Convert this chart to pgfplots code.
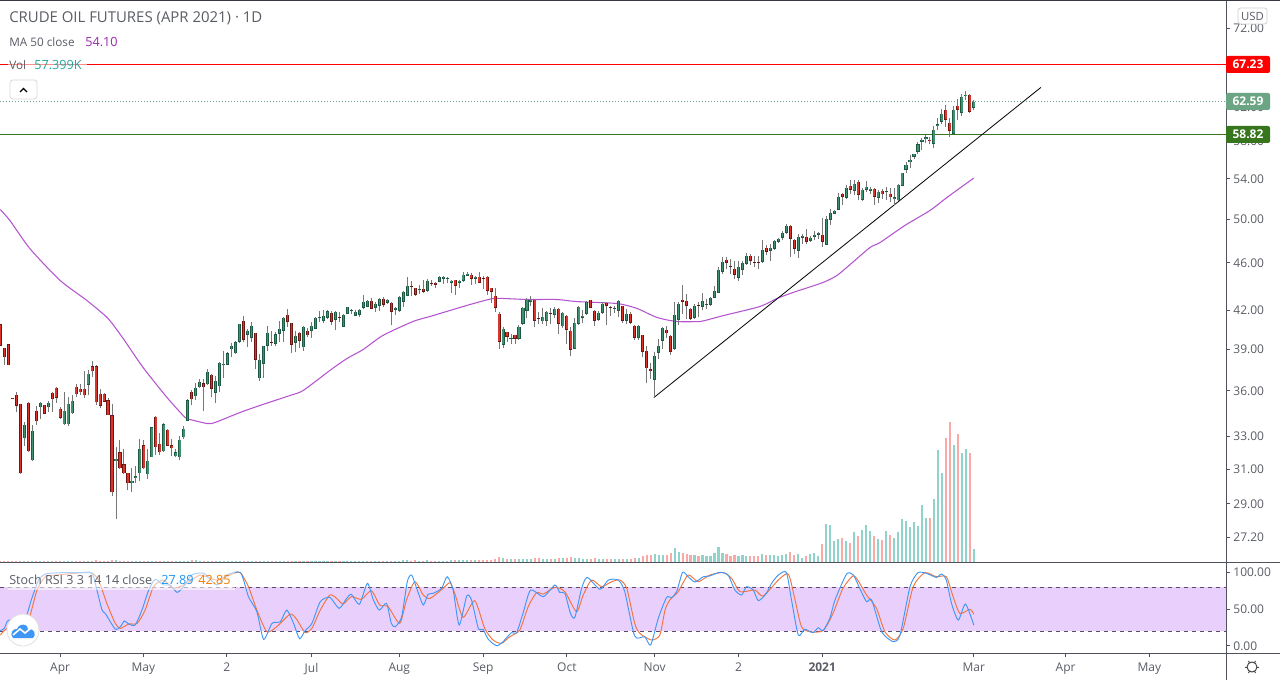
\documentclass[border=0pt]{standalone}
\usepackage{fontspec}
\setmainfont{Open Sans}
\usepackage{pgfplots}
\usepackage{pgfplotstable}
\pgfplotsset{compat=1.18}
\definecolor{axc}{HTML}{50535E}
\definecolor{txt}{HTML}{5A5D66}
\definecolor{gbody}{HTML}{3F9170}
\definecolor{gedge}{HTML}{1C5A43}
\definecolor{rbody}{HTML}{D8352C}
\definecolor{redge}{HTML}{6E1512}
\definecolor{wick}{HTML}{777777}
\definecolor{volg}{HTML}{8FD3CB}
\definecolor{volr}{HTML}{FBA9A6}
\definecolor{ma}{HTML}{B455CF}
\definecolor{rband}{HTML}{E9CFFC}
\definecolor{rdash}{HTML}{5A4A6A}
\definecolor{kblue}{HTML}{3E97F5}
\definecolor{dor}{HTML}{F4733A}
\definecolor{plg}{HTML}{6BA583}
\definecolor{hgreen}{HTML}{37761C}
\definecolor{hred}{HTML}{FF0000}

\pgfplotstableread{
i o h l c v
6 32.89 33.91 32.43 33.74 6
8 31.53 33.70 31.50 33.36 7
10 34.90 35.24 34.09 35.20 6
12 34.90 35.30 34.61 35.20 5
16 33.78 35.96 33.74 34.66 6
17 33.78 35.60 33.65 35.13 6
18 34.50 35.69 34.48 35.33 5
22 36.41 37.49 35.71 37.20 6
29 31.47 32.37 28.17 31.62 10
33 30.17 31.05 29.70 30.32 7
34 30.47 31.16 30.17 30.60 6
35 30.76 32.87 30.33 32.23 6
37 30.70 32.19 30.41 31.50 6
38 31.72 33.63 31.70 33.57 6
41 32.08 33.85 32.05 33.80 6
44 31.78 32.19 31.75 32.04 5
45 31.72 33.03 31.53 32.79 6
46 32.95 33.68 32.85 33.49 6
47 34.00 35.42 33.98 35.39 8
49 35.64 36.53 35.37 36.22 9
50 36.26 36.80 36.22 36.64 7
52 36.47 37.51 36.40 37.35 6
54 35.87 37.05 35.17 36.71 6
55 36.33 38.06 35.91 38.01 6
56 37.81 38.90 36.89 37.92 6
57 37.84 38.82 37.82 38.72 5
58 39.00 39.45 38.40 39.25 6
59 38.70 39.65 38.62 39.55 6
60 39.55 40.95 39.50 40.93 7
62 40.08 40.49 39.15 40.39 6
63 39.85 41.04 39.52 40.78 6
65 36.89 38.65 36.68 38.21 7
66 37.92 39.27 36.89 39.25 7
67 39.25 40.73 38.90 40.23 6
69 39.40 40.26 39.20 40.15 5
70 40.15 41.12 39.52 40.54 5
71 40.39 41.43 39.55 41.41 6
74 39.47 40.41 38.77 40.01 6
76 39.13 40.73 38.85 40.70 6
78 40.39 41.09 39.85 40.78 5
79 40.54 41.43 40.49 41.41 5
80 41.41 41.96 41.04 41.49 5
81 41.17 42.05 41.01 41.57 5
82 41.41 41.99 41.35 41.93 5
84 41.25 41.93 40.44 41.88 6
86 40.70 41.67 40.67 41.65 6
87 41.72 42.31 41.69 42.29 5
88 41.93 42.10 41.72 41.99 5
89 41.57 42.01 41.51 41.88 5
90 41.65 42.10 41.49 42.05 6
91 42.21 43.29 42.10 42.69 7
92 42.29 42.80 42.26 42.78 6
94 42.21 42.64 41.85 42.53 6
95 42.37 43.02 41.96 42.94 6
97 42.61 42.94 42.53 42.86 6
99 42.05 42.31 41.59 42.21 7
100 41.96 43.19 41.88 43.11 8
101 42.69 43.60 42.31 43.52 9
102 43.19 44.73 43.13 44.02 10
105 43.69 44.05 43.35 43.77 8
107 43.60 44.61 43.54 44.44 9
110 44.36 44.81 44.30 44.79 8
111 44.62 44.81 44.19 44.79 8
112 44.62 44.79 44.22 44.70 8
113 44.27 44.47 43.44 44.44 9
115 44.27 44.47 43.87 44.44 9
116 44.44 45.18 44.36 44.97 9
117 44.88 45.21 44.81 45.05 10
119 44.62 44.88 44.19 44.79 10
126 39.32 40.67 39.07 40.54 20
128 39.77 40.15 39.40 39.85 14
130 39.77 40.86 39.70 40.70 15
131 40.94 42.23 40.86 42.21 15
132 41.96 43.02 41.41 42.86 14
133 42.69 43.19 42.34 42.86 14
136 41.12 42.21 40.94 41.49 16
137 41.17 41.91 40.78 41.88 16
139 41.65 42.29 41.41 42.13 14
141 40.75 41.88 40.60 41.80 17
144 39.02 41.41 39.00 41.01 20
145 40.94 42.37 40.86 42.29 18
146 41.41 42.05 41.01 41.57 16
147 41.72 42.78 41.65 42.69 16
150 41.25 41.96 41.17 41.80 15
151 41.80 42.69 41.72 42.53 16
154 42.13 42.37 41.80 42.15 14
155 41.96 42.86 41.49 42.78 14
157 41.17 42.13 40.94 41.72 15
160 39.85 40.80 39.70 40.78 20
164 36.78 38.80 35.57 38.50 35
165 38.72 39.77 38.28 39.25 30
166 39.62 40.70 39.02 40.62 30
169 39.02 42.69 38.92 41.65 58
170 41.25 42.69 40.80 42.53 42
174 41.41 42.53 41.33 42.37 30
176 42.29 43.45 41.99 42.78 32
177 42.50 42.94 42.10 42.55 28
178 42.45 43.05 42.39 43.02 26
179 43.02 43.96 42.99 43.60 38
180 43.44 45.59 43.40 45.39 62
181 45.21 46.53 45.04 46.09 40
185 44.70 46.20 44.41 45.65 28
186 45.39 46.20 44.93 46.00 30
187 45.91 46.88 45.83 46.62 28
191 46.09 48.06 46.00 47.17 34
193 47.07 47.70 46.18 47.35 30
194 47.25 48.01 47.17 47.98 32
195 47.88 48.25 47.79 48.16 26
196 48.25 48.90 48.07 48.72 30
197 48.72 49.56 48.62 49.37 34
200 47.07 48.62 46.41 48.34 34
201 48.25 48.62 47.70 48.43 18
203 47.98 48.43 47.88 48.25 34
204 48.34 48.87 48.07 48.53 38
205 48.53 48.81 48.16 48.72 26
207 47.60 50.33 47.55 50.04 157
208 49.95 51.01 49.47 50.62 153
209 50.52 50.91 50.48 50.81 87
210 50.91 52.59 50.84 52.19 96
212 52.09 53.33 51.99 53.10 87
214 52.79 53.84 52.32 53.50 124
216 51.89 53.10 51.75 52.89 133
217 52.89 53.74 52.69 53.20 153
218 52.79 53.16 52.42 52.99 128
220 52.09 52.82 51.61 52.69 96
222 52.62 53.16 51.89 52.72 128
224 51.92 53.10 51.40 52.12 100
225 51.85 53.43 51.75 53.40 124
226 53.27 54.67 53.23 54.64 178
227 54.96 55.76 54.60 55.48 169
228 55.76 56.48 55.17 56.01 145
229 56.30 56.69 56.12 56.66 165
230 56.87 57.97 56.66 57.75 149
231 57.97 58.43 57.06 58.20 235
232 58.31 58.77 57.82 58.50 182
234 57.75 59.73 57.28 59.32 260
235 59.77 60.73 59.25 60.00 461
236 60.24 61.76 60.00 61.16 366
239 58.87 62.11 58.82 61.64 481
241 61.28 63.48 60.89 63.19 448
242 63.27 63.84 62.75 63.43 465
244 61.88 62.85 61.56 62.59 57.399
}\greentable

\pgfplotstableread{
i o h l c v
0 40.88 40.88 39.27 39.27 6
1 39.10 39.10 37.87 38.40 5
2 39.35 39.35 37.82 37.82 6
3 35.53 35.55 35.42 35.44 5
4 35.74 35.96 34.57 34.97 6
5 35.13 35.13 30.70 30.76 8
7 35.20 35.25 32.05 32.08 8
9 34.66 34.95 33.76 33.98 6
11 35.06 35.08 34.42 34.44 6
13 35.87 35.90 34.61 35.44 5
14 36.22 36.25 35.21 35.53 5
15 34.79 34.92 34.15 34.18 6
19 36.29 36.45 35.57 35.77 5
20 36.15 36.49 35.69 35.91 5
21 36.15 37.37 35.50 35.71 6
23 37.77 38.14 37.00 37.38 6
24 37.77 37.84 35.08 35.23 9
25 35.81 36.17 34.83 34.97 8
26 35.81 35.87 35.23 35.28 6
27 35.39 35.55 34.35 34.37 7
28 34.39 35.13 29.44 29.66 11
30 32.04 32.79 31.02 31.05 8
31 31.31 32.19 30.72 30.76 7
32 30.78 30.80 29.76 30.17 7
36 32.47 32.79 30.98 31.05 6
39 34.27 34.30 31.82 32.33 6
40 32.54 33.20 31.86 32.02 6
42 33.42 33.45 32.40 32.43 6
43 32.47 32.81 31.78 32.26 5
48 35.94 36.08 35.08 35.44 10
51 36.53 36.80 34.63 36.26 7
53 37.13 37.20 35.57 36.15 6
61 41.17 41.51 39.52 39.70 8
64 40.23 40.25 37.51 38.21 8
68 39.57 40.41 39.22 39.50 5
72 41.65 42.13 40.67 41.09 6
73 41.01 41.03 38.70 39.32 7
75 40.23 40.33 39.05 39.62 6
77 40.39 40.57 39.90 40.04 5
83 41.80 41.91 40.86 41.09 6
85 41.49 41.88 41.04 41.41 5
93 42.78 43.02 42.07 42.10 6
96 42.94 43.11 42.26 42.47 6
98 42.61 42.64 40.80 41.88 7
103 44.02 44.41 43.13 43.94 8
104 43.85 43.87 43.13 43.27 9
106 43.77 44.47 43.44 43.52 8
108 44.27 44.53 44.02 44.19 8
109 44.27 44.30 43.80 44.11 8
114 44.53 44.55 43.24 44.02 10
118 44.97 45.07 44.10 44.62 9
120 44.79 45.21 44.22 44.27 10
121 44.70 44.88 43.77 44.62 9
122 44.79 44.81 43.29 43.60 12
123 43.85 43.87 42.61 43.52 12
124 43.19 43.85 41.85 42.21 14
125 41.72 41.88 39.00 39.55 24
127 40.31 40.33 39.55 39.92 16
129 40.08 40.10 39.37 39.77 15
134 42.86 42.88 40.67 41.17 18
135 41.41 41.85 40.94 41.33 17
138 41.80 42.21 40.94 41.72 16
140 42.13 42.15 40.13 40.94 19
142 41.57 41.59 39.40 40.47 20
143 40.39 40.67 38.47 38.95 23
148 42.86 42.88 42.18 42.21 15
149 41.96 42.05 40.75 41.17 17
152 42.61 42.69 40.86 42.37 16
153 42.23 42.37 41.57 42.18 14
156 42.37 42.39 41.01 41.17 16
158 41.72 41.88 40.94 41.01 16
159 40.78 40.80 39.70 39.85 18
161 40.08 40.10 38.40 38.80 27
162 38.88 39.27 36.53 37.60 31
163 37.51 37.99 36.82 37.41 30
167 40.47 40.78 39.85 40.20 30
168 40.01 40.03 38.60 38.80 38
171 42.86 44.05 41.72 42.69 40
172 42.78 43.35 41.33 42.37 36
173 42.13 42.15 41.25 41.33 30
175 42.47 42.69 41.46 42.42 28
182 46.26 46.53 45.48 45.97 36
183 45.76 46.36 45.04 45.70 28
184 45.48 46.18 44.58 44.97 30
188 46.62 46.80 45.83 46.18 28
189 46.11 46.62 45.65 46.02 26
190 46.09 46.62 45.44 46.00 28
192 47.35 47.62 46.72 46.98 30
198 49.37 49.46 46.49 48.16 42
199 48.06 48.10 46.80 47.25 30
202 48.34 49.09 47.70 47.88 26
206 48.53 50.07 47.40 47.88 75
211 52.49 52.59 51.40 52.19 100
213 53.30 53.84 52.49 52.89 79
215 53.71 53.84 51.82 52.39 108
219 52.99 53.10 51.40 52.19 108
221 52.79 52.99 51.99 52.45 92
223 52.49 53.10 51.65 52.12 112
233 58.20 58.50 57.68 58.04 182
237 61.64 62.26 59.62 60.47 510
238 60.12 60.70 58.49 59.21 575
240 62.11 62.95 60.47 61.64 526
243 63.43 63.48 61.28 61.40 448
}\redtable

\pgfplotstableread{
i p
0 50.93
2.4 49.88
7.4 47.27
15 44.47
21.7 42.80
27 41.35
30.8 39.80
35.8 37.65
41.8 35.55
46.3 34.22
47.5 34.09
51.8 33.83
53.8 33.89
60 34.54
65 35.01
72.6 35.69
75.9 36.03
82.6 37.44
86.9 38.31
90.9 38.97
95.9 40.03
103.4 41.11
107.7 41.51
112.7 41.99
117.7 42.47
119.5 42.63
124 42.97
132 42.88
139.5 42.88
144.5 42.71
154.6 42.55
159.6 42.15
164.6 41.43
169.6 41.11
175.4 41.11
176.6 41.19
181.1 41.57
190.4 42.31
194.7 42.97
198.7 43.46
206.2 44.30
209.7 44.90
213 45.85
218 47.37
220.5 47.82
226.7 49.40
233 50.84
237.3 52.13
244 54.10
}\matable

\pgfplotstableread{
x y
-0.075 67.23
307.2 67.23
}\redline
\pgfplotstableread{
x y
-0.075 58.82
307.2 58.82
}\greenline
\pgfplotstableread{
x y
-0.075 62.59
307.2 62.59
}\lastline
\pgfplotstableread{
x y
163.8 35.55
260.8 64.33
}\trendline

\pgfplotstableread{
i k
0 20.5
1 23.7
1.8 33.7
2.9 35
5.8 30.5
7.9 64.5
9.6 89.5
11.3 97.7
15 99.5
20 99.5
23 98.6
24.2 75.9
25.5 48.6
26.3 44.1
28.8 22.8
30.1 26
31.1 33.7
32.2 29.6
33.8 28.2
35.5 48.6
37.2 75.9
38.8 90.4
40.9 82.7
42.6 82.7
44.3 72.7
45.9 80.4
48 96.3
51 98.6
54.3 82.7
56.8 96.3
60.2 99.5
62.2 66.8
64.3 46.4
66 8.7
68.1 30.5
70.2 32.8
71.8 48.6
73.5 30.5
75 9.6
76.4 20.5
78.1 30.5
80.2 60
82.6 65.9
84.9 50.9
86.8 64.5
88 70
90 56.4
92 85
93.5 62.3
95 48.6
96.8 57.7
98 30.5
99 26
100.6 39.6
102 87.2
103.1 96.3
104.5 75.9
106 55.5
107.2 70
108.5 71.4
110.6 78.2
112 94
113.5 75.9
115 28.2
116.9 67.7
118.1 62.3
119.8 23.7
121 22.3
122.3 8.7
124.4 0
126 5.5
128.1 17.8
129.4 17.8
131 44.1
132.9 75.9
136.1 66.8
139 82.7
140.2 72.7
141.5 71.4
142.9 44.1
144 38.7
145.7 78.2
147.1 93.1
150.3 76.8
152.4 89.5
154.9 89.5
156.5 73.6
159 13.2
161.5 12.3
163 1
164.9 37.3
167 65.9
168.2 65.4
169.5 73.6
171 100
172.4 94
174.1 86.8
176.2 94
177.8 95
180.3 100
182.4 96.3
184.1 75.9
185.8 69.1
187 80.4
188.7 75.9
190 61.4
192 71.4
193.3 85
195 96.3
197 100
198.3 62.3
200 14.6
201.6 22.3
203.7 17.8
205 24.6
206.2 20.5
207.9 37.3
209.2 62.3
212.1 97.7
213.8 96.3
215.4 78.2
217.1 60
218.4 62.3
220.9 19.1
223.8 5.5
225.5 14.6
228 80.4
230 99.5
232.1 98.6
234.6 93.1
235.9 97.7
237.1 89.5
238.4 57.7
240.1 35
241.9 56.8
244 27.89
}\ktable

\pgfplotstableread{
i d
0 14.6
1.7 23.7
5 26
7.1 35
9.2 75.9
11.3 94
14.2 96.3
16.7 97.7
22.6 99.5
24.6 89.5
26.7 57.7
28.8 30.5
30.1 23.7
32.2 29.6
34.3 30.5
36.3 48.6
38.4 80.4
40.9 89.5
43.4 78.2
46.8 85
50.1 96.3
54.3 89.5
58.5 98.6
60.2 99.5
62.2 80.4
64.3 48.6
66.8 19.1
69.3 26
72.7 43.2
74.4 35
76.4 17.8
78.1 23.7
80.2 48.6
82.6 69.1
84.3 64.5
85.9 56.8
88 66.8
90.5 63.2
93 75
95.1 55.5
97.2 53.2
100.1 30.5
101.8 62.3
103.9 87.2
106 69.1
107.7 64.5
111 78.2
112.7 85.9
113.9 71.4
116 38.7
118.9 61.4
121.4 23.7
123.5 7.8
125.6 3.2
127.7 12.3
130.2 21.4
132.3 53.2
134.4 72.3
136.1 70.4
139 79.5
141.5 73.6
144.4 46.4
146.1 69.1
148.2 89.5
150.7 80.4
153.2 87.2
155.3 89.5
157 78.2
159 30.5
160.3 16.9
163.2 7.8
165.3 14.6
166.6 48.6
167.8 62.3
169.9 73.6
172.4 96.3
174.9 87.2
177.8 96.3
181.2 99.5
183.3 91.8
185.4 73.6
189.1 75.9
191.2 67.7
195 89.5
197.5 97.7
199.1 64.5
200.8 26
202.9 19.1
206.2 20.5
208.7 44.1
211.2 78.2
213.8 95.4
215.4 85
217.1 69.1
219.6 51
221.7 19.1
224.2 7.8
226.3 23.7
228.8 80.4
231.7 99.5
234.6 94
237.1 94
238.8 66.8
240.5 44.1
243 49.6
244 42.85
}\dtable

\pgfplotsset{
  wickbar/.style={draw=none, mark=none, forget plot,
    error bars/.cd, y dir=plus, y explicit, error mark=none,
    error bar style={color=wick, line width=0.75pt}},
  edgebar/.style={draw=none, mark=none, forget plot,
    error bars/.cd, y dir=plus, y explicit, error mark=none,
    error bar style={color=#1, line width=2.3pt}},
  fillbar/.style={draw=none, mark=none, forget plot,
    error bars/.cd, y dir=plus, y explicit, error mark=none,
    error bar style={color=#1, line width=1.0pt}},
}
\newcommand{\pxfont}[1]{\fontsize{#1}{#1}\selectfont}

\begin{document}
\begin{tikzpicture}[x=0.75pt,y=-0.75pt]
\path[use as bounding box] (0,0) rectangle (1280,680);
\fill[white] (0,0) rectangle (1280,680);

% volume
\begin{axis}[at={(0pt,-421.875pt)},anchor=south west,scale only axis,width=919.5pt,height=420.75pt,
  hide axis,xmin=-0.075,xmax=307.2,ymin=0,ymax=2300]
\addplot[ycomb,color=volg,line width=1.6pt,mark=none] table[x=i,y=v]{\greentable};
\addplot[ycomb,color=volr,line width=1.6pt,mark=none] table[x=i,y=v]{\redtable};
\end{axis}

% price
\begin{axis}[at={(0pt,-421.875pt)},anchor=south west,scale only axis,width=919.5pt,height=420.75pt,
  xmin=-0.075,xmax=307.2,ymode=log,ymin=25.93,ymax=75.84,
  axis y line*=right,axis x line*=bottom,
  axis line style={color=axc,line width=0.75pt},
  xtick=\empty,
  ytick={27.2,29,31,33,36,39,42,46,50,54,58,62,72},
  yticklabels={27.20,29.00,31.00,33.00,36.00,39.00,42.00,46.00,50.00,54.00,58.00,62.00,72.00},
  minor y tick num=0,
  tick align=outside,major tick length=3pt,
  tick style={color=axc,line width=0.75pt},
  yticklabel style={font=\pxfont{9pt},color=txt,xshift=-1pt},
  clip=true]
\addplot[color=hred,line width=0.75pt,mark=none,forget plot] table[x=x,y=y]{\redline};
\addplot[color=hgreen,line width=0.75pt,mark=none,forget plot] table[x=x,y=y]{\greenline};
\addplot[color=plg,line width=0.75pt,dash pattern=on 0.75pt off 1.5pt,mark=none,forget plot] table[x=x,y=y]{\lastline};
\addplot[color=ma,line width=0.8pt,smooth,tension=0.4,forget plot] table[x=i,y=p]{\matable};
\addplot[color=black,line width=0.6pt,mark=none,forget plot] table[x=x,y=y]{\trendline};
% wicks
\addplot[wickbar] table[x=i,y=l,y error plus expr=\thisrow{h}-\thisrow{l},y error minus expr=0]{\greentable};
\addplot[wickbar] table[x=i,y=l,y error plus expr=\thisrow{h}-\thisrow{l},y error minus expr=0]{\redtable};
% bodies: the dark outline, then the lighter inside, half a pixel short at each end
\addplot[edgebar=gedge] table[x=i,y=o,y error plus expr=\thisrow{c}-\thisrow{o},y error minus expr=0]{\greentable};
\addplot[fillbar=gbody] table[x=i,y expr=\thisrow{o}*1.0012,y error plus expr={max(0,\thisrow{c}*0.9988-\thisrow{o}*1.0012)},y error minus expr=0]{\greentable};
\addplot[edgebar=redge] table[x=i,y=c,y error plus expr=\thisrow{o}-\thisrow{c},y error minus expr=0]{\redtable};
\addplot[fillbar=rbody] table[x=i,y expr=\thisrow{c}*1.0012,y error plus expr={max(0,\thisrow{o}*0.9988-\thisrow{c}*1.0012)},y error minus expr=0]{\redtable};
\end{axis}

% Stoch RSI
\begin{axis}[at={(0pt,-489.75pt)},anchor=south west,scale only axis,width=919.5pt,height=67.5pt,
  xmin=-0.075,xmax=307.2,ymin=-9.9,ymax=112.7,
  axis y line*=right,axis x line*=bottom,
  axis line style={color=axc,line width=0.75pt},
  xtick={15,35.85,56.8,78,100,121,142,164,185,206,244,267,288},
  xticklabels={Apr,May,2,Jul,Aug,Sep,Oct,Nov,2,\textbf{2021},Mar,Apr,May},
  ytick={0,50,100},
  yticklabels={0.00,50.00,100.00},
  tick align=outside,major tick length=3pt,
  tick style={color=axc,line width=0.75pt},
  yticklabel style={font=\pxfont{9pt},color=txt,xshift=-1pt},
  xticklabel style={font=\pxfont{9pt},color=txt,yshift=-1pt},
  clip=true]
\addplot[draw=none,fill=rband,forget plot] coordinates {(-0.075,20) (307.2,20) (307.2,80) (-0.075,80)} --cycle;
\addplot[color=rdash,dashed,line width=0.6pt,mark=none,forget plot] coordinates {(-0.075,80) (307.2,80)};
\addplot[color=rdash,dashed,line width=0.6pt,mark=none,forget plot] coordinates {(-0.075,20) (307.2,20)};
\addplot[color=dor,line width=0.7pt,smooth,tension=0.4,forget plot] table[x=i,y=d]{\dtable};
\addplot[color=kblue,line width=0.7pt,smooth,tension=0.4,forget plot] table[x=i,y=k]{\ktable};
\end{axis}

% frame
\draw[axc,line width=0.75pt] (1226.5,0) -- (1226.5,680);
\draw[axc,line width=0.75pt] (0,562.5) -- (1280,562.5);
\draw[axc,line width=0.75pt] (0,653.5) -- (1280,653.5);
\draw[axc!70!black,line width=0.75pt] (0,0.5) -- (1280,0.5);

% legends
\node[anchor=west,inner sep=0,font=\pxfont{11.2pt},text=txt] at (9,18) {CRUDE OIL FUTURES (APR 2021) · 1D};
\node[anchor=west,inner sep=0,font=\pxfont{8.8pt},text=txt] at (9,42) {MA 50 close};
\node[anchor=west,inner sep=0,font=\pxfont{9.5pt},text={rgb,255:red,156;green,39;blue,176}] at (85,42) {54.10};
\fill[white,opacity=0.55] (8,56) rectangle (87,73);
\node[anchor=west,inner sep=0,font=\pxfont{8.8pt},text=txt] at (9,65) {Vol};
\node[anchor=west,inner sep=0,font=\pxfont{9.5pt},text={rgb,255:red,38;green,166;blue,154}] at (34,65) {57.399K};
\draw[fill=white,draw=black!15,line width=0.6pt,rounded corners=2pt] (10,80) rectangle (37,99);
\draw[black,line width=0.9pt] (20,92) -- (23.5,88.5) -- (27,92);
\fill[white,opacity=0.55] (8,572) rectangle (235,590);
\node[anchor=west,inner sep=0,font=\pxfont{9.4pt},text=txt] at (9,580) {Stoch RSI 3 3 14 14 close};
\node[anchor=west,inner sep=0,font=\pxfont{9.5pt},text={rgb,255:red,33;green,150;blue,243}] at (161,580) {27.89};
\node[anchor=west,inner sep=0,font=\pxfont{9.5pt},text={rgb,255:red,245;green,124;blue,0}] at (198,580) {42.85};

% logo
\fill[white] (23,630) circle (16);
\draw[black!12,line width=0.6pt] (23,630) circle (16);
\fill[kblue] (13,638) .. controls (9,634) and (13,628) .. (17,629) .. controls (20,622) and (28,624) .. (28,629) .. controls (34,628) and (37,635) .. (33,638) -- cycle;
\draw[white,line width=1.2pt] (13,635) -- (20,629) -- (25,633) -- (31,628);

% price tags
\fill[red,rounded corners=1.5pt] (1226,56) rectangle (1270,73);
\node[inner sep=0,font=\bfseries\pxfont{9pt},text=white] at (1248,64.5) {67.23};
\fill[plg,rounded corners=1.5pt] (1226,93) rectangle (1270,110);
\node[inner sep=0,font=\bfseries\pxfont{9pt},text=white] at (1248,101.5) {62.59};
\fill[hgreen,rounded corners=1.5pt] (1226,126) rectangle (1270,143);
\node[inner sep=0,font=\bfseries\pxfont{9pt},text=white] at (1248,134.5) {58.82};
\draw[fill=white,draw=black!18,line width=0.6pt,rounded corners=2pt] (1238,8) rectangle (1267,24);
\node[inner sep=0,font=\pxfont{8.5pt},text=txt] at (1252.5,16) {USD};
% settings icon
\draw[black!75,line width=0.7pt] (1252,667) circle (5);
\foreach \a in {0,60,...,300}{\draw[black!75,line width=0.7pt] (1252,667) ++(\a:5) -- ++(\a:2);}
\end{tikzpicture}
\end{document}
